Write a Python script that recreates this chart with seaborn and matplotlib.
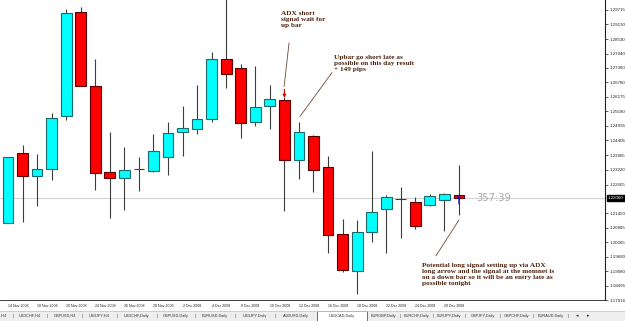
import matplotlib
matplotlib.use("Agg")
import matplotlib.pyplot as plt
import matplotlib.transforms as mtrans
from matplotlib.patches import Rectangle
import seaborn as sns
import pandas as pd

# ---------------- data ----------------
dates = ["14 Nov 2008", "17 Nov 2008", "18 Nov 2008", "19 Nov 2008", "20 Nov 2008",
         "21 Nov 2008", "24 Nov 2008", "25 Nov 2008", "26 Nov 2008", "27 Nov 2008",
         "28 Nov 2008", "1 Dec 2008", "2 Dec 2008", "3 Dec 2008", "4 Dec 2008",
         "5 Dec 2008", "8 Dec 2008", "9 Dec 2008", "10 Dec 2008", "11 Dec 2008",
         "12 Dec 2008", "15 Dec 2008", "16 Dec 2008", "17 Dec 2008", "18 Dec 2008",
         "19 Dec 2008", "22 Dec 2008", "23 Dec 2008", "24 Dec 2008", "26 Dec 2008",
         "29 Dec 2008", "30 Dec 2008"]
opens = [1.21048, 1.23883, 1.22951, 1.23235, 1.25381, 1.29634, 1.26637, 1.23113,
         1.22870, 1.23235, 1.23154, 1.23721, 1.24733, 1.24855, 1.25260, 1.27730,
         1.27366, 1.25138, 1.25827, 1.26070, 1.23600, 1.24571, 1.23316, 1.20602,
         1.19104, 1.20683, 1.21615, 1.22020, 1.21898, 1.21777, 1.21979, 1.22182]
highs = [1.23721, 1.24207, 1.23842, 1.25503, 1.29756, 1.29837, 1.27730, 1.24733,
         1.24126, 1.23721, 1.24652, 1.25138, 1.25827, 1.26677, 1.28014, 1.30150,
         1.27528, 1.27447, 1.26677, 1.26191, 1.25138, 1.24612, 1.23761, 1.21210,
         1.21169, 1.23964, 1.22182, 1.22506, 1.22101, 1.22222, 1.22263, 1.23397]
lows = [1.21048, 1.21088, 1.21736, 1.22789, 1.25219, 1.26637, 1.22384, 1.21250,
        1.21574, 1.22344, 1.23113, 1.22992, 1.23761, 1.24652, 1.25138, 1.26556,
        1.24490, 1.24976, 1.24855, 1.21534, 1.22830, 1.22303, 1.19833, 1.19063,
        1.18172, 1.20278, 1.19833, 1.20440, 1.20805, 1.21736, 1.20724, 1.21372]
closes = [1.23721, 1.22951, 1.23235, 1.25300, 1.29594, 1.26637, 1.23073, 1.22870,
          1.23194, 1.23235, 1.23964, 1.24693, 1.24895, 1.25260, 1.27730, 1.27123,
          1.25098, 1.25786, 1.26110, 1.23600, 1.24733, 1.23194, 1.20562, 1.19144,
          1.20683, 1.21493, 1.22101, 1.22020, 1.20926, 1.22141, 1.22222, 1.22060]

price_ticks = [1.29715, 1.29130, 1.28530, 1.27940, 1.27360, 1.26780, 1.26175,
               1.25590, 1.24995, 1.24405, 1.23805, 1.23220, 1.22605, 1.21450,
               1.20865, 1.20265, 1.19680, 1.19080, 1.18495, 1.17916]

tabs = ["USDCHF,H4", "GBPUSD,H4", "USDJPY,H4", "USDCHF,Daily", "GBPUSD,Daily",
        "EURUSD,Daily", "USDJPY,Daily", "AUDUSD,Daily", "USDCAD,Daily",
        "EURGBP,Daily", "EURCHF,Daily", "EURJPY,Daily", "GBPJPY,Daily",
        "GBPCHF,Daily", "EURAUD,Daily"]
active_tab = "USDCAD,Daily"
timer_text = "357:39"

note1 = "ADX short\nsignal wait for\nup bar"
note2 = "Upbar go short late as\npossible on this day result\n+ 149 pips"
note3 = ("Potential long signal setting up via ADX\n"
         "long arrow and the signal at the momnet is\n"
         "on a down bar so it will be an entry late as\n"
         "possible tonight")

# ---------------- styling ----------------
sns.set_style("white")
plt.rcParams['font.family'] = ['Liberation Sans', 'DejaVu Sans']

df = pd.DataFrame(dict(date=dates, open=opens, high=highs, low=lows, close=closes))
df["x"] = range(len(df))
df["kind"] = ["up" if c > o else ("down" if c < o else "doji")
              for o, c in zip(df.open, df.close)]

W, H = 625, 321
fig = plt.figure(figsize=(W / 100, H / 100), dpi=100)
fig.patch.set_facecolor("white")
ax = fig.add_axes([0, 21 / H, 605 / W, 300 / H])
ax.set_facecolor("white")

UP_FACE, UP_EDGE = "#00ffff", "#1d6a6a"
DN_FACE, DN_EDGE = "#ff0000", "#5a0000"
WICK = "#3c3c3c"
BODY_W = 0.74

# current bid line
ax.axhline(closes[-1], color="#d2d2d2", lw=0.8, zorder=0)

# wicks
ax.vlines(df.x, df.low, df.high, color=WICK, lw=0.8, zorder=1)

# bodies
for kind, face, edge in [("up", UP_FACE, UP_EDGE), ("down", DN_FACE, DN_EDGE)]:
    sub = df[df.kind == kind]
    bottom = sub[["open", "close"]].min(axis=1)
    height = (sub.close - sub.open).abs()
    ax.bar(sub.x, height, bottom=bottom, width=BODY_W, color=face,
           edgecolor=edge, linewidth=0.8, zorder=2)
dj = df[df.kind == "doji"]
ax.hlines(dj.close, dj.x - BODY_W / 2, dj.x + BODY_W / 2, color=WICK, lw=0.8, zorder=2)

ax.set_xlim(-0.55, 41.04)
ax.set_ylim(1.17970, 1.30120)

# axes look
for s in ["top", "left"]:
    ax.spines[s].set_visible(False)
ax.spines["right"].set_color("#202020")
ax.spines["right"].set_linewidth(0.8)
ax.spines["bottom"].set_color("#202020")
ax.spines["bottom"].set_linewidth(0.6)

ax.yaxis.tick_right()
ax.set_yticks(price_ticks)
ax.set_yticklabels([f"{v:.5f}" for v in price_ticks])
ax.tick_params(axis="y", length=2, width=0.5, labelsize=3.2, pad=1,
               colors="#202020", direction="out")

xt = list(range(0, len(df), 2))
ax.set_xticks(xt)
ax.set_xticklabels([dates[i] for i in xt])
ax.tick_params(axis="x", length=2, width=0.5, labelsize=2.6, pad=1.2,
               colors="#202020", direction="out")
for lab in ax.get_xticklabels():
    lab.set_ha("left")

# current price marker on the scale
tr = mtrans.blended_transform_factory(ax.transAxes, ax.transData)
ax.text(1.0 + 3 / 605, closes[-1], f"{closes[-1]:.5f}", transform=tr,
        fontsize=3.2, color="white", va="center", ha="left",
        bbox=dict(boxstyle="square,pad=0.25", fc="black", ec="black"),
        clip_on=False)

# timer
ax.text(32.2, closes[-1], timer_text, fontsize=7.2, color="#a8a8a8",
        va="center", ha="left", family="DejaVu Sans")

# signal arrows
ax.annotate("", xy=(19, 1.26140), xytext=(19, 1.26480),
            arrowprops=dict(arrowstyle="-|>", color="#e00000", lw=0.9,
                            mutation_scale=4, shrinkA=0, shrinkB=0), zorder=4)
ax.annotate("", xy=(31, 1.22220), xytext=(31, 1.21820),
            arrowprops=dict(arrowstyle="-|>", color="#1818c0", lw=0.9,
                            mutation_scale=4, shrinkA=0, shrinkB=0), zorder=4)

# notes
note_kw = dict(fontsize=5.2, color="#4e2410", family=["Liberation Serif", "DejaVu Serif"],
               fontweight="semibold", va="top", ha="left", linespacing=1.25)
ax.text(18.77, 1.29690, note1, **note_kw)
ax.text(22.41, 1.27900, note2, **note_kw)
ax.text(28.46, 1.19420, note3, **note_kw)
line_kw = dict(color="#6a4a3a", lw=0.6)
ax.plot([19.32, 18.98], [1.28378, 1.26596], **line_kw)
ax.plot([22.27, 20.07], [1.27164, 1.25381], **line_kw)
ax.plot([31.0, 29.42], [1.21170, 1.19712], **line_kw)

# ---------------- tab bar ----------------
tb = fig.add_axes([0, 0, 1, 10 / H])
tb.set_xlim(0, W)
tb.set_ylim(10, 0)
tb.set_facecolor("#eeeeee")
for s in tb.spines.values():
    s.set_visible(False)
tb.set_xticks([])
tb.set_yticks([])
tb.axhline(0.2, color="#c8c8c8", lw=0.6)

seps = [13, 47, 82, 117, 157, 195, 235, 275, 317, 367, 400, 433, 465, 500, 533, 568]
tab_kw = dict(fontsize=2.8, color="#333333", va="center", ha="center")
tb.text(1, 5, ",H4", ha="left", va="center", fontsize=2.8, color="#333333")
for i, name in enumerate(tabs):
    cx = (seps[i] + seps[i + 1]) / 2
    if name == active_tab:
        tb.add_patch(Rectangle((seps[i], 0.3), seps[i + 1] - seps[i], 9.2,
                               fc="white", ec="#555555", lw=0.6))
    tb.text(cx, 5, name, **tab_kw)
for i, sx in enumerate(seps):
    if sx in (317, 367):
        continue
    tb.text(sx, 5, "|", **tab_kw)
tb.text(577, 5, "◂", fontsize=3.5, color="#333333", va="center", ha="center",
        family="DejaVu Sans")
tb.text(588, 5, "▸", fontsize=3.5, color="#333333", va="center", ha="center",
        family="DejaVu Sans")

fig.savefig("out.png", dpi=100, facecolor="white")
